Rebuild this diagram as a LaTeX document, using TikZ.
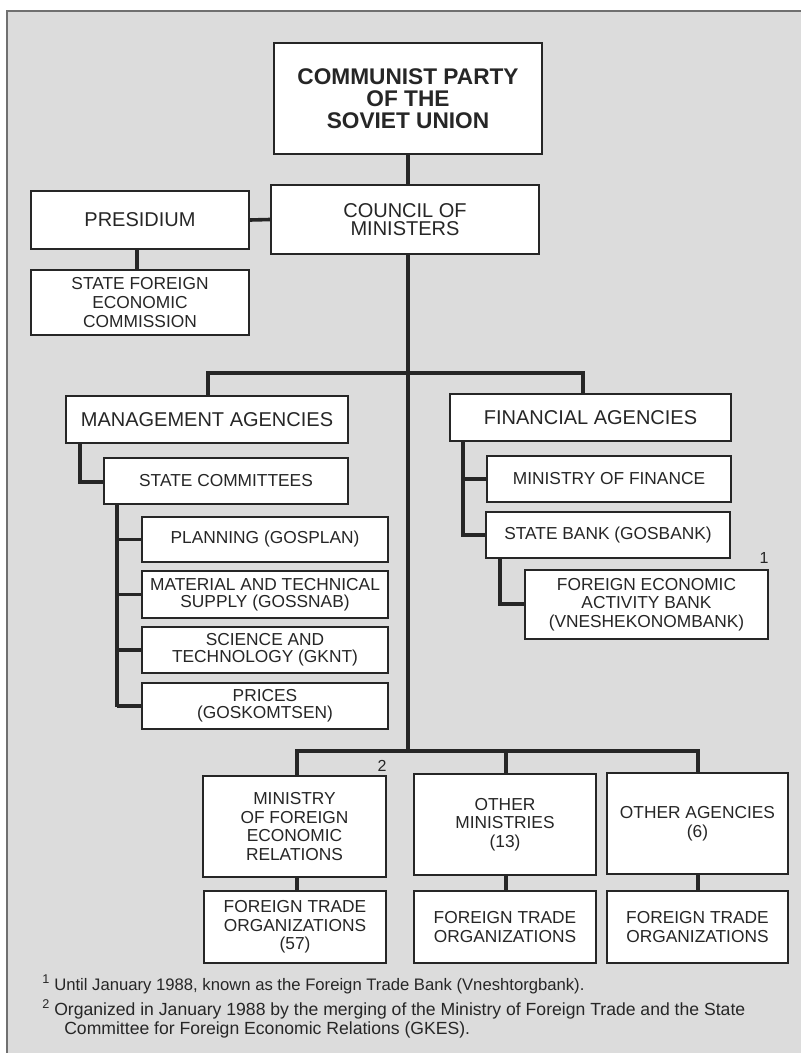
\documentclass[tikz,border=0pt]{standalone}
\usepackage{fontspec}
\setmainfont{Liberation Sans}
\definecolor{bggray}{HTML}{DCDCDC}
\definecolor{ink}{HTML}{262626}
\definecolor{framegray}{HTML}{707070}
\tikzset{
  box/.style={draw=ink, line width=1.5pt, fill=white, inner sep=0pt, align=center, text=ink},
  topbox/.style={box, font={\fontsize{17}{16.5}\selectfont\bfseries}},
  bigbox/.style={box, font={\fontsize{15}{13.5}\selectfont}},
  smallbox/.style={box, font={\fontsize{13}{14}\selectfont}},
  tightbox/.style={box, font={\fontsize{13}{12.5}\selectfont}},
  conn/.style={draw=ink, line width=2.7pt},
  fnote/.style={anchor=base west, inner sep=0pt, text=ink, font={\fontsize{12.5}{13}\selectfont}},
  fnotewide/.style={fnote, font={\fontsize{13.2}{13}\selectfont}},
  fmark/.style={anchor=base, inner sep=0pt, text=ink, font={\fontsize{12}{12}\selectfont}},
  fsup/.style={anchor=base west, inner sep=0pt, text=ink, font={\fontsize{9.5}{10}\selectfont}},
}
\newcommand{\bx}[6]{% name, style, xcenter, ycenter, w, h
  \node[#2, minimum width=#5*0.75pt, minimum height=#6*0.75pt] (#1) at (#3,#4)}
\begin{document}
\begin{tikzpicture}[x=0.75pt, y=-0.75pt]
\useasboundingbox (0,0) rectangle (800,1053);
\fill[white] (0,0) rectangle (800,1053);
\fill[bggray] (7,11) rectangle (805,1060);
\draw[framegray, line width=1.5pt] (7,1060) -- (7,11) -- (805,11);

% boxes
\bx{cpsu}{topbox}{408}{98.5}{268}{111}{COMMUNIST PARTY\\OF THE\\SOVIET UNION};
\bx{council}{bigbox}{405}{219.5}{268}{69}{COUNCIL OF\\MINISTERS};
\bx{presidium}{bigbox}{140}{220}{218}{58}{PRESIDIUM};
\bx{sfec}{smallbox}{140}{302.5}{218}{65}{STATE FOREIGN\\ECONOMIC\\COMMISSION};
\bx{mgmt}{bigbox}{207}{419.5}{282}{47}{MANAGEMENT AGENCIES};
\bx{fin}{bigbox}{590.5}{417.5}{281}{47}{FINANCIAL AGENCIES};
\bx{statecom}{smallbox}{226}{481}{244}{46}{STATE COMMITTEES};
\bx{planning}{smallbox}{265}{539.5}{246}{45}{PLANNING (GOSPLAN)};
\bx{material}{tightbox}{265}{594.5}{246}{47}{MATERIAL AND TECHNICAL\\SUPPLY (GOSSNAB)};
\bx{science}{tightbox}{265}{650}{246}{46}{SCIENCE AND\\TECHNOLOGY (GKNT)};
\bx{prices}{tightbox}{265}{706}{246}{46}{PRICES\\(GOSKOMTSEN)};
\bx{mof}{smallbox}{609}{479}{244}{46}{MINISTRY OF FINANCE};
\bx{statebank}{smallbox}{608}{535}{244}{46}{STATE BANK (GOSBANK)};
\bx{feab}{smallbox}{646.5}{604.5}{243}{69}{FOREIGN ECONOMIC\\ACTIVITY BANK\\(VNESHEKONOMBANK)};
\bx{mfer}{smallbox}{294.5}{826.5}{183}{101}{MINISTRY\\OF FOREIGN\\ECONOMIC\\RELATIONS};
\bx{othmin}{smallbox}{505}{824.5}{182}{101}{OTHER\\MINISTRIES\\(13)};
\bx{othag}{smallbox}{697.5}{823.5}{181}{101}{OTHER AGENCIES\\(6)};
\bx{fto1}{smallbox}{295}{927}{182}{72}{FOREIGN TRADE\\ORGANIZATIONS\\(57)};
\bx{fto2}{smallbox}{505}{927}{182}{72}{FOREIGN TRADE\\ORGANIZATIONS};
\bx{fto3}{smallbox}{697.5}{927}{181}{72}{FOREIGN TRADE\\ORGANIZATIONS};

% junction coordinates
\coordinate (trunkA) at (408,373);
\coordinate (trunkB) at (408,751);
\coordinate (busL) at (208,373);
\coordinate (busR) at (583,373);
\coordinate (presX) at (137,0);
\coordinate (mgmtA) at (80,443);
\coordinate (mgmtB) at (80,482);
\coordinate (scA) at (117,504);
\coordinate (scB) at (117,707);
\coordinate (finA) at (463,441);
\coordinate (finB) at (463,535);
\coordinate (sbA) at (500,558);
\coordinate (sbB) at (500,604);
\coordinate (lbL) at (297,751);
\coordinate (lbM) at (506,751);
\coordinate (lbR) at (698,751);

% connectors
\path[conn] (cpsu.south) -- (cpsu.south |- council.north);
\path[conn] (presidium.east) -- (council.west);
\path[conn] (presX |- presidium.south) -- (presX |- sfec.north);
\path[conn] (council.south -| trunkA) -- (trunkB);
\path[conn] (busL |- mgmt.north) -- (busL) -- (busR) -- (busR |- fin.north);
\path[conn] (mgmtA) -- (mgmtB) -- (statecom.west |- mgmtB);
\path[conn] (scA) -- (scB);
\path[conn] (scA |- planning.west) -- (planning.west);
\path[conn] (scA |- material.west) -- (material.west);
\path[conn] (scA |- science.west) -- (science.west);
\path[conn] (scA |- prices.west) -- (prices.west);
\path[conn] (finA) -- (finB) -- (statebank.west);
\path[conn] (finA |- mof.west) -- (mof.west);
\path[conn] (sbA) -- (sbB) -- (feab.west |- sbB);
\path[conn] (lbL |- mfer.north) -- (lbL) -- (lbR) -- (lbR |- othag.north);
\path[conn] (lbM) -- (lbM |- othmin.north);
\path[conn] (lbL |- mfer.south) -- (lbL |- fto1.north);
\path[conn] (lbM |- othmin.south) -- (lbM |- fto2.north);
\path[conn] (lbR |- othag.south) -- (lbR |- fto3.north);

% footnote markers
\node[fmark] (m1) at (764,563) {1};
\node[fmark] (m2) at (382,771) {2};

% footnotes
\node[fsup] (f1m) at (42,983) {1};
\node[fnote] (f1) at (54,990) {Until January 1988, known as the Foreign Trade Bank (Vneshtorgbank).};
\node[fsup] (f2m) at (42,1008) {2};
\node[fnotewide] (f2) at (54,1015) {Organized in January 1988 by the merging of the Ministry of Foreign Trade and the State};
\node[fnotewide] (f3) at (64,1034) {Committee for Foreign Economic Relations (GKES).};
\end{tikzpicture}
\end{document}
